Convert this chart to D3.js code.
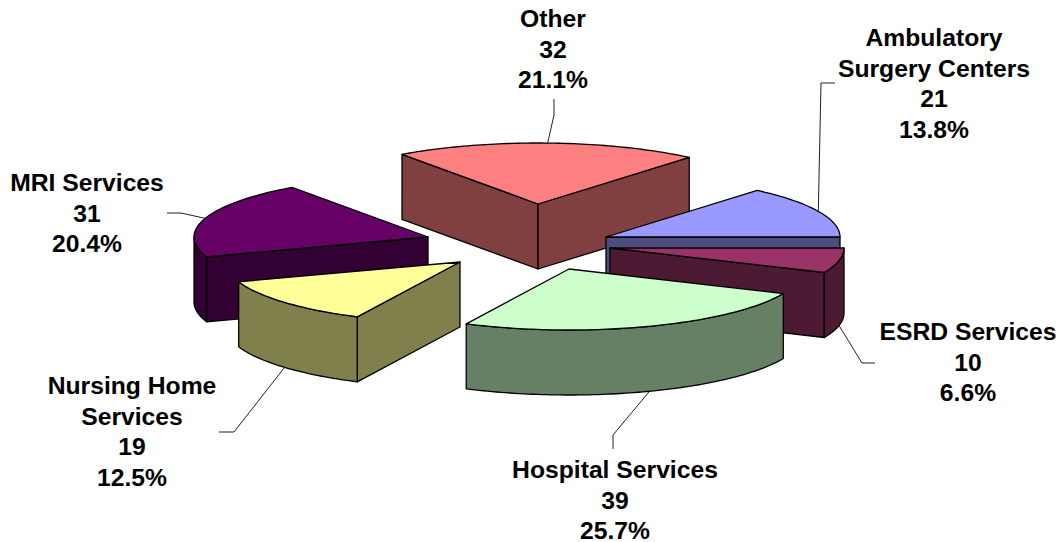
<!DOCTYPE html>
<html>
<head>
<meta charset="utf-8">
<script src="https://cdn.jsdelivr.net/npm/d3@7"></script>
<style>
html,body{margin:0;padding:0;background:#fff;}
svg{display:block;}
text{font-family:"Liberation Sans",Arial,sans-serif;font-weight:700;font-size:24.7px;fill:#000;text-anchor:middle;}
</style>
</head>
<body>
<svg id="chart" width="1059" height="542"></svg>
<script>
// ---- data ----
const categories = ["Ambulatory Surgery Centers","ESRD Services","Hospital Services","Nursing Home Services","MRI Services","Other"];
const labelLines = [["Ambulatory","Surgery Centers"],["ESRD Services"],["Hospital Services"],["Nursing Home","Services"],["MRI Services"],["Other"]];
const counts = [21,10,39,19,31,32];
const topColors = ["#9999FF","#993366","#CCFFCC","#FFFF99","#660066","#FF8080"];
const sideColors = ["#4D4D80","#4D1A33","#668066","#80804D","#330033","#804040"];

// ---- layout of the exploded 3-D pie ----
const W = 1059, H = 542;
const rx = 234, ry = 61, depth = 65;
const cx = 535, cy = 240;
const explodeX = [71, 75, 34, -75, -107, 3];
const explodeY = [-3, 8, 29, 22, -3, -36];
const drawOrder = [5, 4, 0, 1, 3, 2];
const labelX = [934, 968, 615, 132, 87, 553];
const labelY = [46, 340, 478, 394, 191, 27];
const lineGap = 30.7;
const leaderElbows = [
  [[835,83],[821,83]],
  [[875,363],[862,363]],
  [[613,449],[613,435]],
  [[219,432],[234,432]],
  [[167,213],[181,213]],
  [[554,99],[554,115]]
];

const svg = d3.select("#chart");
const total = d3.sum(counts);
const pct = d3.format(".1%");
const firstStart = Math.PI/2 - 2*Math.PI*counts[0]/total;
const arcs = d3.pie().sort(null).startAngle(firstStart).endAngle(firstStart + 2*Math.PI)(counts);

// elliptical projection: angle is clockwise from 12 o'clock
const proj = (i, a, drop=0) => [
  cx + explodeX[i] + rx*Math.sin(a),
  cy + explodeY[i] - ry*Math.cos(a) + drop
];
const apex = (i, drop=0) => [cx + explodeX[i], cy + explodeY[i] + drop];
const line = d3.line();
const rim = (i, a0, a1, drop=0) => {
  const n = Math.max(2, Math.ceil((a1-a0)/0.02));
  const s = d3.scaleLinear().domain([0,n]).range([a0,a1]);
  return d3.range(n+1).map(k => proj(i, s(k), drop));
};

const gPie = svg.append("g");
drawOrder.forEach(i => {
  const {startAngle:a0, endAngle:a1} = arcs[i];
  const g = gPie.append("g").attr("data-category", categories[i])
    .attr("stroke","#000").attr("stroke-width",1.3).attr("stroke-linejoin","round");
  const wall = pts => g.append("path").attr("d", line(pts)+"Z").attr("fill", sideColors[i]);
  // radial walls facing the viewer
  if (Math.sin(a0) < 0) wall([apex(i), proj(i,a0), proj(i,a0,depth), apex(i,depth)]);
  if (Math.sin(a1) > 0) wall([apex(i), proj(i,a1), proj(i,a1,depth), apex(i,depth)]);
  // outer rim wall on the near half of the ellipse
  const lo = Math.max(a0, Math.PI/2), hi = Math.min(a1, 3*Math.PI/2);
  if (hi > lo) wall(rim(i,lo,hi).concat(rim(i,lo,hi,depth).reverse()));
  // top face
  g.append("path").attr("d", line([apex(i)].concat(rim(i,a0,a1)))+"Z").attr("fill", topColors[i]);
});

// leader lines
const gLead = svg.append("g").attr("fill","none").attr("stroke","#222").attr("stroke-width",1);
arcs.forEach((d,i) => {
  const mid = (d.startAngle+d.endAngle)/2;
  const anchor = proj(i, mid, Math.cos(mid) < 0 ? depth : 0);
  gLead.append("path").attr("d", line(leaderElbows[i].concat([anchor])));
});

// labels
const gText = svg.append("g");
arcs.forEach((d,i) => {
  const lines = labelLines[i].concat([String(counts[i]), pct(counts[i]/total)]);
  gText.selectAll(null).data(lines).enter().append("text")
    .attr("x", labelX[i])
    .attr("y", (t,k) => labelY[i] + k*lineGap)
    .text(t => t);
});
</script>
</body>
</html>
